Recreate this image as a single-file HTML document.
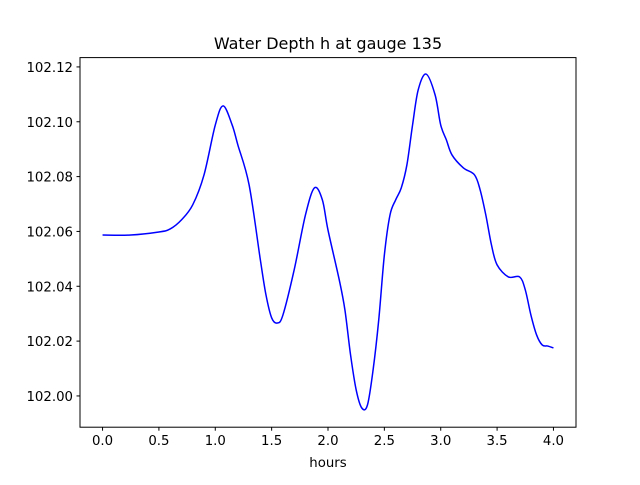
<!DOCTYPE html>
<html><head><meta charset="utf-8"><style>
body{margin:0;background:#fff}
text{font-family:"DejaVu Sans","Liberation Sans",sans-serif;fill:#000}
</style></head><body>
<svg id="chart" width="640" height="480" xmlns="http://www.w3.org/2000/svg">
<rect width="640" height="480" fill="#fff"/>
<text x="328" y="49" font-size="16" text-anchor="middle">Water Depth h at gauge 135</text>
<g id="plot"></g>
<rect x="80" y="57.6" width="496" height="369.6" fill="none" stroke="#000" stroke-width="1"/>
<text x="328" y="467" font-size="13.3" text-anchor="middle">hours</text>
</svg>
<script>
const xTicks=[0,0.5,1,1.5,2,2.5,3,3.5,4];
const xTickLabels=["0.0","0.5","1.0","1.5","2.0","2.5","3.0","3.5","4.0"];
const yTicks=[102.00,102.02,102.04,102.06,102.08,102.10,102.12];
const yTickLabels=["102.00","102.02","102.04","102.06","102.08","102.10","102.12"];
const hours=[0,0.25,0.5,0.6,0.7,0.8,0.9,1.0,1.07,1.15,1.2,1.3,1.4,1.45,1.5,1.55,1.6,1.7,1.8,1.88,1.95,2.0,2.1,2.15,2.2,2.25,2.3,2.35,2.4,2.45,2.5,2.55,2.6,2.65,2.7,2.75,2.8,2.87,2.95,3.0,3.05,3.1,3.2,3.3,3.35,3.4,3.45,3.5,3.6,3.7,3.75,3.8,3.85,3.9,3.95,4.0];
const depth=[102.0587,102.0587,102.0598,102.0609,102.0642,102.0697,102.0806,102.0988,102.1058,102.0988,102.0916,102.0770,102.0496,102.0368,102.0285,102.0266,102.0295,102.0460,102.0660,102.0759,102.0715,102.0605,102.0423,102.0314,102.0150,102.0022,101.9956,101.9967,102.0095,102.0277,102.0514,102.0660,102.0715,102.0759,102.0843,102.0988,102.1116,102.1174,102.1098,102.0988,102.0934,102.0879,102.0832,102.0806,102.0751,102.0660,102.0551,102.0478,102.0434,102.0434,102.0387,102.0295,102.0223,102.0186,102.0182,102.0175];
const X0=80,X1=576,Y0=57.6,Y1=427.2,xmin=-0.2,xmax=4.2,ymin=101.9886,ymax=102.1234;
const sx=v=>X0+(v-xmin)/(xmax-xmin)*(X1-X0);
const sy=v=>Y1-(v-ymin)/(ymax-ymin)*(Y1-Y0);
const NS="http://www.w3.org/2000/svg",g=document.getElementById('plot');
function mk(t,a){const e=document.createElementNS(NS,t);for(const k in a)e.setAttribute(k,a[k]);g.appendChild(e);return e;}
xTicks.forEach((v,i)=>{
 const l=mk('line',{x1:sx(v),x2:sx(v),y1:Y1,y2:Y1+3.5,stroke:'#000'});
 
 
 const t=mk('text',{x:sx(v),y:Y1+18,'font-size':13.3,'text-anchor':'middle'});t.textContent=xTickLabels[i];
 
 
});
yTicks.forEach((v,i)=>{
 const l=mk('line',{x1:X0-3.5,x2:X0,y1:sy(v),y2:sy(v),stroke:'#000'});
 
 
 const t=mk('text',{x:X0-7,y:sy(v)+5,'font-size':13.3,'text-anchor':'end'});t.textContent=yTickLabels[i];
 
 
});
const P=hours.map((h,i)=>[sx(h),sy(depth[i])]);
let d='M'+P[0][0]+','+P[0][1];
for(let i=0;i<P.length-1;i++){
 const p0=P[Math.max(0,i-1)],p1=P[i],p2=P[i+1],p3=P[Math.min(P.length-1,i+2)];
 const c1=[p1[0]+(p2[0]-p0[0])/6,p1[1]+(p2[1]-p0[1])/6],c2=[p2[0]-(p3[0]-p1[0])/6,p2[1]-(p3[1]-p1[1])/6];
 d+=` C${c1[0]},${c1[1]} ${c2[0]},${c2[1]} ${p2[0]},${p2[1]}`;
}
const path=mk('path',{d:d,fill:'none',stroke:'#0000ff','stroke-width':1.5});


</script>
</body></html>
